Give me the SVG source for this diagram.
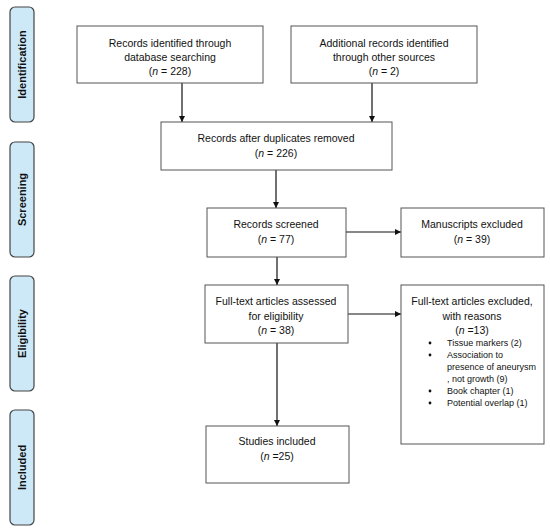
<svg xmlns="http://www.w3.org/2000/svg" width="550" height="528" viewBox="0 0 550 528">
<style>
.box{fill:#fff;stroke:#555;stroke-width:1}
.side{fill:#cde9f8;stroke:#444;stroke-width:1.2}
.t{font-family:"Liberation Sans",Arial,sans-serif;font-size:10.5px;fill:#111;text-anchor:middle}
.s{font-family:"Liberation Sans",Arial,sans-serif;font-size:9px;fill:#111}
.lab{font-family:"Liberation Sans",Arial,sans-serif;font-size:11px;font-weight:bold;fill:#111;text-anchor:middle}
.c{stroke:#111;stroke-width:1.2;fill:none;marker-end:url(#ah)}
</style>
<defs>
<marker id="ah" viewBox="0 0 10 10" refX="10" refY="5" markerWidth="6" markerHeight="6" markerUnits="userSpaceOnUse" orient="auto">
<path d="M0,0 L10,5 L0,10 z" fill="#111"/>
</marker>
</defs>
<rect width="550" height="528" fill="#fff"/>
<g id="side-identification"><rect class="side" x="10" y="7" width="24" height="115" rx="5"/><text class="lab" transform="translate(26,64.5) rotate(-90)">Identification</text></g>
<g id="side-screening"><rect class="side" x="10" y="142" width="24" height="115" rx="5"/><text class="lab" transform="translate(26,199.5) rotate(-90)">Screening</text></g>
<g id="side-eligibility"><rect class="side" x="10" y="276" width="24" height="115" rx="5"/><text class="lab" transform="translate(26,333.5) rotate(-90)">Eligibility</text></g>
<g id="side-included"><rect class="side" x="10" y="410" width="24" height="115" rx="5"/><text class="lab" transform="translate(26,467.5) rotate(-90)">Included</text></g>

<g id="connectors">
<line class="c" x1="182" y1="83" x2="182" y2="122"/>
<line class="c" x1="372" y1="83" x2="372" y2="122"/>
<line class="c" x1="276" y1="170" x2="276" y2="208"/>
<line class="c" x1="346" y1="232" x2="401" y2="232"/>
<line class="c" x1="277" y1="257" x2="277" y2="285"/>
<line class="c" x1="348" y1="314" x2="401" y2="314"/>
<line class="c" x1="277" y1="343" x2="277" y2="426"/>
</g>

<g id="n1"><rect class="box" x="77" y="26" width="186" height="57"/>
<text class="t" x="170" y="47">Records identified through</text>
<text class="t" x="170" y="61">database searching</text>
<text class="t" x="170" y="75">(<tspan font-style="italic">n</tspan> = 228)</text></g>

<g id="n2"><rect class="box" x="291" y="26" width="186" height="57"/>
<text class="t" x="384" y="47">Additional records identified</text>
<text class="t" x="384" y="61">through other sources</text>
<text class="t" x="384" y="75">(<tspan font-style="italic">n</tspan> = 2)</text></g>

<g id="n3"><rect class="box" x="161" y="122" width="231" height="48"/>
<text class="t" x="276" y="142">Records after duplicates removed</text>
<text class="t" x="276" y="157">(<tspan font-style="italic">n</tspan> = 226)</text></g>

<g id="n4"><rect class="box" x="207" y="208" width="139" height="49"/>
<text class="t" x="276" y="228">Records screened</text>
<text class="t" x="276" y="243">(<tspan font-style="italic">n</tspan> = 77)</text></g>

<g id="n5"><rect class="box" x="401" y="208" width="143" height="49"/>
<text class="t" x="472" y="228">Manuscripts excluded</text>
<text class="t" x="472" y="243">(<tspan font-style="italic">n</tspan> = 39)</text></g>

<g id="n6"><rect class="box" x="205" y="285" width="143" height="58"/>
<text class="t" x="276" y="305">Full-text articles assessed</text>
<text class="t" x="276" y="320">for eligibility</text>
<text class="t" x="276" y="334">(<tspan font-style="italic">n</tspan> = 38)</text></g>

<g id="n7"><rect class="box" x="401" y="285" width="143" height="159"/>
<text class="t" x="472" y="305">Full-text articles excluded,</text>
<text class="t" x="472" y="320">with reasons</text>
<text class="t" x="472" y="334">(<tspan font-style="italic">n</tspan> =13)</text>
<g class="s">
<circle cx="430" cy="343" r="1.4" fill="#111"/><text class="s" x="447" y="346">Tissue markers (2)</text>
<circle cx="430" cy="355" r="1.4" fill="#111"/><text class="s" x="447" y="358">Association to</text>
<text class="s" x="447" y="370">presence of aneurysm</text>
<text class="s" x="447" y="382">, not growth (9)</text>
<circle cx="430" cy="391" r="1.4" fill="#111"/><text class="s" x="447" y="394">Book chapter (1)</text>
<circle cx="430" cy="403" r="1.4" fill="#111"/><text class="s" x="447" y="406">Potential overlap (1)</text>
</g></g>

<g id="n8"><rect class="box" x="206" y="426" width="143" height="57"/>
<text class="t" x="277" y="445">Studies included</text>
<text class="t" x="277" y="460">(<tspan font-style="italic">n</tspan> =25)</text></g>
</svg>
